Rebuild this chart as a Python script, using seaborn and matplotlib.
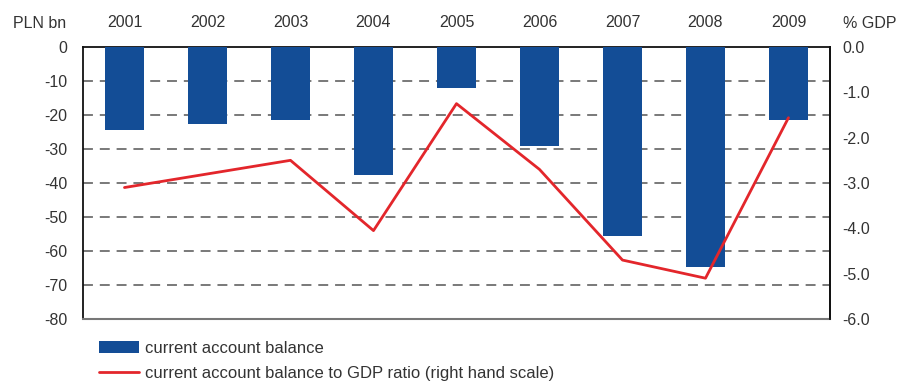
import matplotlib
matplotlib.use("Agg")
import matplotlib.pyplot as plt
from matplotlib.patches import Patch
from matplotlib.lines import Line2D
import seaborn as sns
import pandas as pd

# Current account data, 2001-2009
years = ["2001", "2002", "2003", "2004", "2005", "2006", "2007", "2008", "2009"]
balance_pln_bn = [-24.4, -22.6, -21.5, -37.6, -12.1, -29.0, -55.5, -64.6, -21.5]
balance_pct_gdp = [-3.1, -2.8, -2.5, -4.05, -1.25, -2.7, -4.7, -5.1, -1.56]

left_ticks = [0, -10, -20, -30, -40, -50, -60, -70, -80]
right_ticks = [0.0, -1.0, -2.0, -3.0, -4.0, -5.0, -6.0]

BLUE = "#134D96"
RED = "#E3262B"
TEXT = "#333333"
FS = 11.5
FS_LEG = 12

df = pd.DataFrame({"year": years, "balance": balance_pln_bn, "ratio": balance_pct_gdp})

sns.set_theme(style="white")
plt.rcParams["font.family"] = ["Liberation Sans", "DejaVu Sans"]

fig = plt.figure(figsize=(9, 3.82), dpi=100)
ax = fig.add_axes([0.0922, 0.1649, 0.83, 0.7121])

sns.barplot(data=df, x="year", y="balance", color=BLUE, width=0.48,
            saturation=1, linewidth=0, ax=ax, zorder=3)
ax.set_ylim(-80, 0)
ax.set_yticks(left_ticks)
ax.set_yticklabels([str(t) for t in left_ticks])
ax.set_xlim(-0.5, len(years) - 0.5)

# dashed horizontal grid
for t in left_ticks[1:-1]:
    ax.axhline(t, color="#555555", lw=1.1, dashes=(6.5, 4.5), zorder=1)

ax.xaxis.tick_top()
ax.set_xlabel("")
ax.set_ylabel("")
ax.tick_params(axis="x", length=0, pad=12, labelsize=FS, colors=TEXT)
ax.tick_params(axis="y", length=0, pad=11, labelsize=FS, colors=TEXT)

for side in ["left", "top", "right"]:
    ax.spines[side].set_visible(True)
    ax.spines[side].set_color("#111111")
    ax.spines[side].set_linewidth(1.3)
ax.spines["bottom"].set_color("#777777")
ax.spines["bottom"].set_linewidth(1.5)

ax2 = ax.twinx()
sns.pointplot(data=df, x="year", y="ratio", color=RED, markers="",
              linewidth=2, ax=ax2, zorder=4)
ax2.set_ylim(-6, 0)
ax2.set_yticks(right_ticks)
ax2.set_yticklabels([f"{t:.1f}" for t in right_ticks])
ax2.set_xlim(-0.5, len(years) - 0.5)
ax2.set_ylabel("")
ax2.tick_params(axis="y", length=0, pad=9, labelsize=FS, colors=TEXT)
for side in ["left", "top", "bottom"]:
    ax2.spines[side].set_visible(False)
ax2.spines["right"].set_color("#111111")
ax2.spines["right"].set_linewidth(1.3)

fig.text(66 / 900, 1 - 23 / 382, "PLN bn", ha="right", va="center",
         fontsize=FS, color=TEXT)
fig.text(843 / 900, 1 - 23 / 382, "% GDP", ha="left", va="center",
         fontsize=FS, color=TEXT)

handles = [Patch(facecolor=BLUE, edgecolor="none"),
           Line2D([0], [0], color=RED, lw=2)]
labels = ["current account balance",
          "current account balance to GDP ratio (right hand scale)"]
fig.legend(handles, labels, loc="upper left", bbox_to_anchor=(99 / 900, 1 - 341 / 382),
           frameon=False, fontsize=FS_LEG, labelcolor=TEXT, handlelength=2.4,
           handleheight=0.75, handletextpad=0.35, labelspacing=0.6,
           borderpad=0, borderaxespad=0)

fig.savefig("out.png", dpi=100)
